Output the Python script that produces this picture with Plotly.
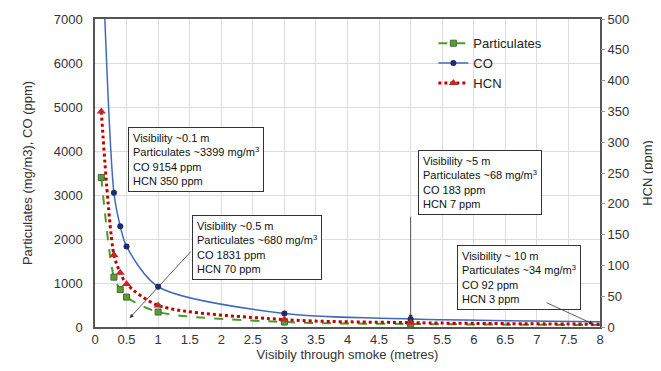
import plotly.graph_objects as go

visibility = [0.1, 0.3, 0.4, 0.5, 1, 3, 5, 10]
particulates = [3399, 1133, 850, 680, 340, 113, 68, 34]
co = [9154, 3051, 2289, 1831, 915, 305, 183, 92]
hcn = [350, 117, 88, 70, 35, 12, 7, 3.5]

x_ticks = [0, 0.5, 1, 1.5, 2, 2.5, 3, 3.5, 4, 4.5, 5, 5.5, 6, 6.5, 7, 7.5, 8]

FONT = "Liberation Sans, Arial, sans-serif"

fig = go.Figure()
fig.add_trace(go.Scatter(
    x=visibility, y=particulates, name="Particulates", mode="lines+markers",
    line=dict(color="#4E9A2E", width=2, dash="dash", shape="spline", smoothing=0.8),
    marker=dict(symbol="square", size=6, color="#5E9A3C", line=dict(color="#3C6E28", width=1)),
))
fig.add_trace(go.Scatter(
    x=visibility, y=co, name="CO", mode="lines+markers",
    line=dict(color="#4169B8", width=1.5, shape="spline", smoothing=0.8),
    marker=dict(symbol="circle", size=6, color="#1C2A6E"),
))
fig.add_trace(go.Scatter(
    x=visibility, y=hcn, name="HCN", mode="lines+markers", yaxis="y2",
    line=dict(color="#C00000", width=3, dash="dot", shape="spline", smoothing=0.8),
    marker=dict(symbol="triangle-up", size=8, color="#C0282B"),
))

boxes = [
    (0.53, 4540, "Visibility ~0.1 m<br>Particulates ~3399 mg/m<sup>3</sup><br>CO 9154 ppm<br>HCN 350 ppm"),
    (1.54, 2545, "Visibility ~0.5 m<br>Particulates ~680 mg/m<sup>3</sup><br>CO 1831 ppm<br>HCN 70 ppm"),
    (5.12, 4020, "Visibility ~5 m<br>Particulates ~68 mg/m<sup>3</sup><br>CO 183 ppm<br>HCN 7 ppm"),
    (5.73, 1864, "Visibility ~ 10 m<br>Particulates ~34 mg/m<sup>3</sup><br>CO 92 ppm<br>HCN 3 ppm"),
]
annotations = []
for bx, by, txt in boxes:
    annotations.append(dict(
        x=bx, y=by, xref="x", yref="y", text=txt, showarrow=False,
        xanchor="left", yanchor="top", align="left",
        font=dict(family=FONT, size=11, color="#111"),
        bgcolor="white", bordercolor="#333", borderwidth=1, borderpad=4,
    ))

arrows = [
    ((0.55, 205), (1.54, 1750)),
    ((5.0, 190), (5.0, 2540)),
    ((7.89, 68), (7.13, 568)),
]
for (hx, hy), (tx, ty) in arrows:
    annotations.append(dict(
        x=hx, y=hy, ax=tx, ay=ty, xref="x", yref="y", axref="x", ayref="y",
        text="", showarrow=True, arrowhead=2, arrowsize=1, arrowwidth=0.8,
        arrowcolor="#333",
    ))

fig.update_layout(
    width=653, height=363,
    margin=dict(l=87, r=61, t=11, b=44),
    paper_bgcolor="white", plot_bgcolor="white",
    font=dict(family=FONT, size=13, color="#333"),
    showlegend=True,
    legend=dict(x=0.67, y=0.97, xanchor="left", yanchor="top",
                bgcolor="rgba(0,0,0,0)", font=dict(size=13, color="#222"),
                tracegroupgap=0, itemwidth=30),
    xaxis=dict(range=[0, 8], tickvals=x_ticks, ticktext=[f"{t:g}" for t in x_ticks],
               showgrid=True, gridcolor="#DDDDDD", gridwidth=1, automargin=False,
               showline=True, linecolor="#555", linewidth=1.5, mirror=True,
               ticks="", zeroline=False,
               title=dict(text="Visibily through smoke (metres)", standoff=4,
                          font=dict(size=13, color="#333"))),
    yaxis=dict(range=[0, 7000], dtick=1000, showgrid=True, gridcolor="#DDDDDD",
               showline=True, linecolor="#555", linewidth=1.5, mirror=True,
               ticks="", zeroline=False, ticklabelstandoff=8, automargin=False,
               title=dict(text="Particulates (mg/m3), CO (ppm)", standoff=18,
                          font=dict(size=13, color="#333"))),
    yaxis2=dict(range=[0, 500], dtick=50, overlaying="y", side="right",
                showgrid=False, zeroline=False, showline=False, automargin=False,
                ticks="outside", ticklen=4, tickcolor="#999",
                title=dict(text="HCN (ppm)", standoff=14, font=dict(size=13, color="#333"))),
    annotations=annotations,
)

fig.write_html("out.html")
